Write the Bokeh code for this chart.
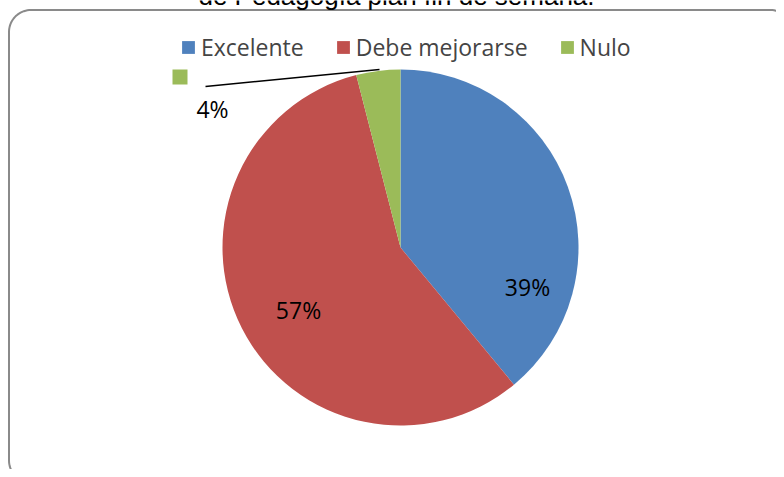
import numpy as np
from bokeh.plotting import figure
from bokeh.models import Range1d, ColumnDataSource
from bokeh.core.properties import value
from bokeh.embed import file_html
from bokeh.resources import INLINE

# ---- data ----
categories = ["Excelente", "Debe mejorarse", "Nulo"]
percents = [39, 57, 4]
colors = ["#4F81BD", "#C0504D", "#9BBB59"]
label_texts = ["39%", "57%", "4%"]
title_text = "de Pedagogía plan fin de semana."

# ---- layout constants (reference pixels, y measured from top) ----
W, H = 776, 469
cx, cy_s, R = 400, 247, 178
label_x = [527, 298, 212]
label_y_s = [286, 309, 108]
FONT = "Open Sans"

p = figure(width=W, height=H, x_range=Range1d(0, W), y_range=Range1d(0, H),
           output_backend="svg", toolbar_location=None, min_border=0,
           x_axis_type=None, y_axis_type=None)
p.grid.visible = False
p.outline_line_color = None
p.background_fill_color = "white"

def sy(v):
    return H - np.asarray(v, dtype=float)

# rounded border
left, top, right, bottom, r = 8.5, 9.5, 792, 482, 22
xs, ys = [], []
def arc(cxa, cya, a0, a1):
    t = np.linspace(a0, a1, 20)
    xs.extend(cxa + r * np.cos(t)); ys.extend(cya - r * np.sin(t))
arc(left + r, top + r, np.pi, np.pi / 2)
arc(right - r, top + r, np.pi / 2, 0)
arc(right - r, bottom - r, 0, -np.pi / 2)
arc(left + r, bottom - r, -np.pi / 2, -np.pi)
xs.append(xs[0]); ys.append(ys[0])
p.line(xs, list(sy(ys)), line_color="#8a8a8a", line_width=2)

# title (cut off at the top, as in the reference)
p.text(x=[396], y=[float(sy(-5))], text=[title_text], text_align="center",
       text_baseline="alphabetic", text_font=value("Liberation Sans"),
       text_font_size="26px", text_color="black")

# pie wedges
frac = np.array(percents, dtype=float) / sum(percents)
cum = np.concatenate([[0], np.cumsum(frac)])
start = np.pi / 2 - 2 * np.pi * cum[1:]
end = np.pi / 2 - 2 * np.pi * cum[:-1]
src = ColumnDataSource(dict(start=start, end=end, color=colors, category=categories))
p.wedge(x=cx, y=float(sy(cy_s)), radius=R, start_angle="start", end_angle="end",
        direction="anticlock", fill_color="color", line_color=None, source=src,
        legend_field="category")

# data labels
p.text(x=label_x, y=list(sy(label_y_s)), text=label_texts, text_align="center",
       text_baseline="middle", text_font=value(FONT), text_font_size="23px",
       text_color="black")

# leader line for the small slice and its legend key
p.line([205, 379], list(sy([86, 69])), line_color="black", line_width=1.6)
p.rect(x=[179.5], y=[float(sy(76.5))], width=15, height=15,
       fill_color=colors[2], line_color=None)

# legend
lg = p.legend[0]
lg.orientation = "horizontal"
lg.location = (180, H - 63)
lg.background_fill_alpha = 0
lg.border_line_color = None
lg.padding = 0
lg.margin = 0
lg.glyph_width = 16
lg.glyph_height = 16
lg.label_standoff = 5
lg.spacing = 31
lg.label_text_font = FONT
lg.label_text_font_size = "23px"
lg.label_height = 20

open("out.html", "w").write(file_html(p, INLINE))
